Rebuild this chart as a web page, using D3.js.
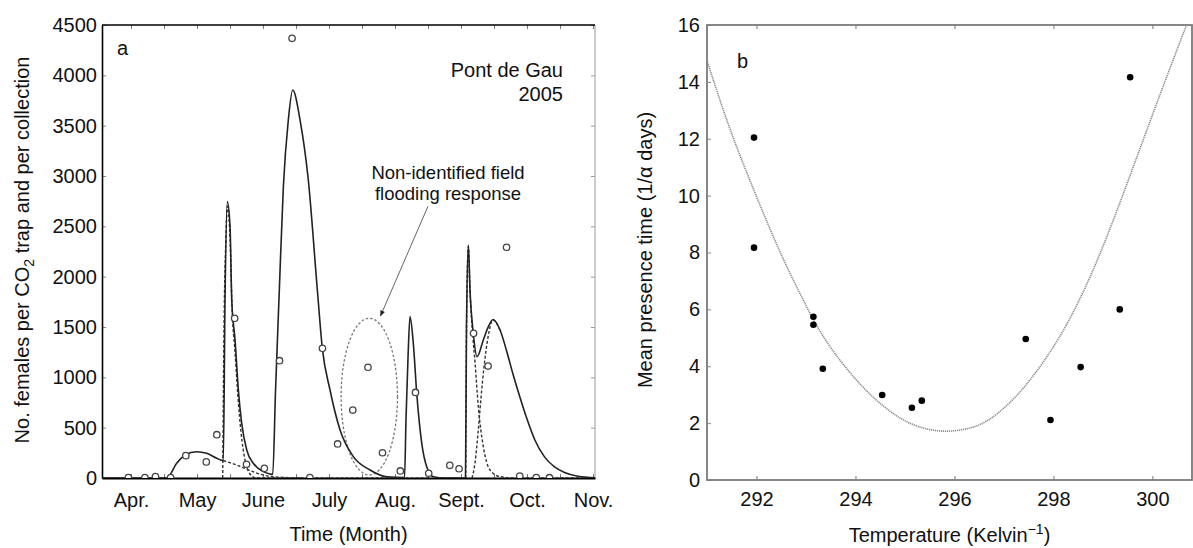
<!DOCTYPE html>
<html><head><meta charset="utf-8">
<script src="https://cdn.jsdelivr.net/npm/d3@7"></script>
<style>
body{margin:0;background:#fff;}
text{font-family:"Liberation Sans",Arial,Helvetica,sans-serif;fill:#111;}
</style></head><body>
<svg id="chart" width="1193" height="548"></svg>
<script>
// ---------- Panel a data ----------
const months = ["Apr.","May","June","July","Aug.","Sept.","Oct.","Nov."];
const monthIdx = [0,1,2,3,4,5,6,7];
const countTicks = [0,500,1000,1500,2000,2500,3000,3500,4000,4500];
// observed catches (time in months after 1 April)
const obsMonth = [-0.04,0.21,0.37,0.60,0.83,1.14,1.30,1.57,1.75,2.02,2.25,2.44,2.71,2.90,3.13,3.36,3.59,3.81,4.08,4.31,4.51,4.83,4.97,5.19,5.41,5.69,5.89,6.14,6.34];
const obsCount = [5,5,15,5,222,160,430,1586,136,96,1165,4368,5,1288,338,675,1100,251,70,850,47,126,92,1437,1112,2292,20,5,3];
// total model (solid)
const totalMonth = [-0.44,0.541,0.692,0.818,0.995,1.147,1.298,1.398,1.424,1.459,1.500,1.526,1.576,1.626,1.677,1.753,1.853,2.005,2.106,2.147,2.189,2.247,2.308,2.383,2.450,2.561,2.686,2.823,2.898,3.015,3.167,3.368,3.621,3.874,4.144,4.167,4.197,4.227,4.277,4.329,4.405,4.480,4.580,4.758,5.068,5.083,5.111,5.136,5.186,5.242,5.338,5.414,5.485,5.591,5.692,5.788,5.894,5.992,6.117,6.265,6.417,6.568,6.773,7.03];
const totalCount = [0,0,146,228,261,245,196,172,1768,2745,2497,1768,1371,874,543,278,146,63,40,35,860,1870,2894,3556,3854,3556,2960,1867,1290,874,477,212,80,13,5,600,1200,1603,1338,841,345,112,13,0,0,1500,2315,1867,1437,1205,1371,1503,1575,1470,1260,1030,800,600,380,210,110,55,18,3];
// model components (dashed)
const comp1Month = [1.398,1.576,1.727,1.879,2.030,2.258,2.561,3.167,4.5];
const comp1Count = [172,135,95,55,25,8,2,0,0];
const comp2Month = [1.389,1.409,1.439,1.459,1.500,1.530,1.576,1.621,1.667,1.727,1.803,1.894,2.561];
const comp2Count = [0,1500,2400,2700,2400,1700,1250,800,450,180,40,0,0];
const comp5Month = [5.071,5.083,5.111,5.136,5.182,5.212,5.262,5.338,5.439,5.591,5.894,7.03];
const comp5Count = [0,1500,2300,1867,1380,1150,708,311,80,13,0,0];
const comp6Month = [5.167,5.212,5.258,5.303,5.348,5.409,5.485,5.591];
const comp6Count = [0,150,450,800,1100,1400,1570,1470];
// annotation (data units)
const floodCenter = [3.61, 808];
const floodRadius = [0.427, 778];
const arrowFrom = [4.50, 2700];
const arrowTo = [3.78, 1610];
const noteLines = ["Non-identified field","flooding response"];

// ---------- Panel b data ----------
const tempTicks = [292,294,296,298,300];
const presTicks = [0,2,4,6,8,10,12,14,16];
const tempObs = [291.95,291.95,293.15,293.15,293.34,294.54,295.14,295.34,297.44,297.94,298.55,299.34,299.55];
const presObs = [12.04,8.17,5.74,5.46,3.91,2.99,2.54,2.79,4.96,2.11,3.97,6.0,14.16];
const fitTemp = [291.0,291.4,291.8,292.47,292.88,293.15,293.55,294.23,294.9,295.4,295.84,296.3,296.65,297.1,297.59,298.27,298.94,299.6,300.29,300.8];
const fitPres = [14.75,12.6,10.8,7.98,6.56,5.6,4.47,3.05,2.11,1.78,1.68,1.80,2.02,2.65,3.6,5.35,7.85,10.95,14.2,16.5];

const svg = d3.select("#chart");
const FS = 20;
const FF = "Liberation Sans, Arial, sans-serif";

// ================= Panel a =================
const A = {l:102, r:595, t:25, b:478};
const xa = d3.scaleLinear().domain([-0.44, 7.03]).range([A.l, A.r]);
const ya = d3.scaleLinear().domain([0, 4500]).range([A.b, A.t]);
const ga = svg.append("g");

// inward ticks
const halfMonths = d3.range(0, 7.01, 0.5);
ga.append("g").attr("transform",`translate(0,${A.t})`)
  .call(d3.axisBottom(xa).tickValues(halfMonths).tickSize(4).tickFormat(""))
  .call(g=>{g.select(".domain").remove(); g.selectAll("line").attr("stroke","#777");});
ga.append("g").attr("transform",`translate(0,${A.b})`)
  .call(d3.axisTop(xa).tickValues(halfMonths).tickSize(4).tickFormat(""))
  .call(g=>{g.select(".domain").remove(); g.selectAll("line").attr("stroke","#777");});
ga.append("g").attr("transform",`translate(${A.l},0)`)
  .call(d3.axisRight(ya).tickValues(countTicks).tickSize(4).tickFormat(""))
  .call(g=>{g.select(".domain").remove(); g.selectAll("line").attr("stroke","#888");});
ga.append("g").attr("transform",`translate(${A.r},0)`)
  .call(d3.axisLeft(ya).tickValues(countTicks).tickSize(4).tickFormat(""))
  .call(g=>{g.select(".domain").remove(); g.selectAll("line").attr("stroke","#999");});

// borders
ga.append("line").attr("x1",A.r).attr("x2",A.r).attr("y1",A.t).attr("y2",A.b).attr("stroke","#aaa").attr("stroke-width",1.2);
ga.append("line").attr("x1",A.l).attr("x2",A.r).attr("y1",A.t).attr("y2",A.t).attr("stroke","#000").attr("stroke-width",1.6);

// labelled axes
ga.append("g").attr("transform",`translate(0,${A.b})`)
  .call(d3.axisBottom(xa).tickValues(monthIdx).tickSize(0).tickPadding(15).tickFormat(i=>months[i]))
  .call(g=>{g.select(".domain").attr("stroke","#000").attr("stroke-width",1.8);
            g.selectAll("text").attr("font-size",FS).attr("font-family",FF).attr("fill","#111");});
ga.append("g").attr("transform",`translate(${A.l},0)`)
  .call(d3.axisLeft(ya).tickValues(countTicks).tickSize(0).tickPadding(5).tickFormat(d3.format("d")))
  .call(g=>{g.select(".domain").attr("stroke","#000").attr("stroke-width",1.6);
            g.selectAll("text").attr("font-size",FS).attr("font-family",FF).attr("fill","#111");});

// clip
svg.append("clipPath").attr("id","clipA").append("rect").attr("x",A.l).attr("y",A.t-2).attr("width",A.r-A.l).attr("height",A.b-A.t+2);
const pa = ga.append("g").attr("clip-path","url(#clipA)");

const lineA = d3.line().x(d=>xa(d[0])).y(d=>ya(d[1])).curve(d3.curveMonotoneX);
const zip = (a,b)=>a.map((v,i)=>[v,b[i]]);

// ellipse
pa.append("ellipse")
  .attr("cx", xa(floodCenter[0])).attr("cy", ya(floodCenter[1]))
  .attr("rx", xa(floodCenter[0]+floodRadius[0]) - xa(floodCenter[0]))
  .attr("ry", ya(floodCenter[1]) - ya(floodCenter[1]+floodRadius[1]))
  .attr("fill","none").attr("stroke","#777").attr("stroke-width",1.3).attr("stroke-dasharray","2.5,2");

// dashed components
[[comp1Month,comp1Count],[comp2Month,comp2Count],[comp5Month,comp5Count],[comp6Month,comp6Count]].forEach(([m,c])=>{
  pa.append("path").attr("d", lineA(zip(m,c))).attr("fill","none")
    .attr("stroke","#333").attr("stroke-width",1.4).attr("stroke-dasharray","3,2");
});
// solid total
pa.append("path").attr("d", lineA(zip(totalMonth,totalCount))).attr("fill","none")
  .attr("stroke","#222").attr("stroke-width",1.6);

// observed circles
pa.selectAll("circle.obs").data(zip(obsMonth,obsCount)).enter().append("circle")
  .attr("cx",d=>xa(d[0])).attr("cy",d=>ya(d[1])).attr("r",3.2)
  .attr("fill","#fff").attr("stroke","#444").attr("stroke-width",1.3);

// arrow
svg.append("defs").append("marker").attr("id","ah").attr("viewBox","0 0 10 10")
  .attr("refX",9).attr("refY",5).attr("markerWidth",6).attr("markerHeight",6).attr("orient","auto")
  .append("path").attr("d","M0,1 L10,5 L0,9 z").attr("fill","#222");
ga.append("line").attr("x1",xa(arrowFrom[0])).attr("y1",ya(arrowFrom[1]))
  .attr("x2",xa(arrowTo[0])).attr("y2",ya(arrowTo[1]))
  .attr("stroke","#666").attr("stroke-width",1).attr("marker-end","url(#ah)");

// texts
const note = ga.append("text").attr("text-anchor","middle").attr("font-size",18.5);
note.append("tspan").attr("x",448).attr("y",179).text(noteLines[0]);
note.append("tspan").attr("x",448).attr("y",200).text(noteLines[1]);
ga.append("text").attr("x",117).attr("y",55).attr("font-size",FS).text("a");
ga.append("text").attr("x",563).attr("y",77).attr("text-anchor","end").attr("font-size",FS).text("Pont de Gau");
ga.append("text").attr("x",563).attr("y",101).attr("text-anchor","end").attr("font-size",FS).text("2005");
ga.append("text").attr("x",(A.l+A.r)/2).attr("y",541).attr("text-anchor","middle").attr("font-size",FS).text("Time (Month)");
const yl = ga.append("text").attr("transform",`translate(29,${250}) rotate(-90)`).attr("text-anchor","middle").attr("font-size",FS);
yl.append("tspan").text("No. females per CO");
yl.append("tspan").attr("font-size",14).attr("dy",5).text("2");
yl.append("tspan").attr("dy",-5).text(" trap and per collection");

// ================= Panel b =================
const B = {l:707, r:1192, t:25, b:480};
const xb = d3.scaleLinear().domain([291, 300.8]).range([B.l, B.r]);
const yb = d3.scaleLinear().domain([0, 16]).range([B.b, B.t]);
const gb = svg.append("g");

gb.append("g").attr("transform",`translate(0,${B.t})`)
  .call(d3.axisBottom(xb).tickValues(tempTicks).tickSize(4).tickFormat(""))
  .call(g=>{g.select(".domain").remove(); g.selectAll("line").attr("stroke","#777");});
gb.append("g").attr("transform",`translate(0,${B.b})`)
  .call(d3.axisTop(xb).tickValues(tempTicks).tickSize(4).tickFormat(""))
  .call(g=>{g.select(".domain").remove(); g.selectAll("line").attr("stroke","#777");});
gb.append("g").attr("transform",`translate(${B.l},0)`)
  .call(d3.axisRight(yb).tickValues(presTicks).tickSize(4).tickFormat(""))
  .call(g=>{g.select(".domain").remove(); g.selectAll("line").attr("stroke","#888");});

gb.append("rect").attr("x",B.l).attr("y",B.t).attr("width",B.r-B.l).attr("height",B.b-B.t)
  .attr("fill","none").attr("stroke","#7a7a7a").attr("stroke-width",1.8);

gb.append("g").attr("transform",`translate(0,${B.b})`)
  .call(d3.axisBottom(xb).tickValues(tempTicks).tickSize(0).tickPadding(12))
  .call(g=>{g.select(".domain").remove();
            g.selectAll("text").attr("font-size",FS).attr("font-family",FF).attr("fill","#111");});
gb.append("g").attr("transform",`translate(${B.l},0)`)
  .call(d3.axisLeft(yb).tickValues(presTicks).tickSize(0).tickPadding(7))
  .call(g=>{g.select(".domain").remove();
            g.selectAll("text").attr("font-size",FS).attr("font-family",FF).attr("fill","#111");});

svg.append("clipPath").attr("id","clipB").append("rect").attr("x",B.l).attr("y",B.t).attr("width",B.r-B.l).attr("height",B.b-B.t);
const pb = gb.append("g").attr("clip-path","url(#clipB)");
const lineB = d3.line().x(d=>xb(d[0])).y(d=>yb(d[1])).curve(d3.curveBasis);
pb.append("path").attr("d", lineB(zip(fitTemp,fitPres))).attr("fill","none")
  .attr("stroke","#8a8a8a").attr("stroke-width",1.6).attr("stroke-dasharray","1.2,0.8");
pb.selectAll("circle").data(zip(tempObs,presObs)).enter().append("circle")
  .attr("cx",d=>xb(d[0])).attr("cy",d=>yb(d[1])).attr("r",3.3).attr("fill","#000");

gb.append("text").attr("x",737).attr("y",68).attr("font-size",FS).text("b");
const xl = gb.append("text").attr("x",(B.l+B.r)/2).attr("y",542).attr("text-anchor","middle").attr("font-size",FS);
xl.append("tspan").text("Temperature (Kelvin");
xl.append("tspan").attr("font-size",14).attr("dy",-8).text("\u22121");
xl.append("tspan").attr("dy",8).text(")");
gb.append("text").attr("transform",`translate(652,250) rotate(-90)`).attr("text-anchor","middle").attr("font-size",FS)
  .text("Mean presence time (1/\u03b1 days)");
</script>
</body></html>
